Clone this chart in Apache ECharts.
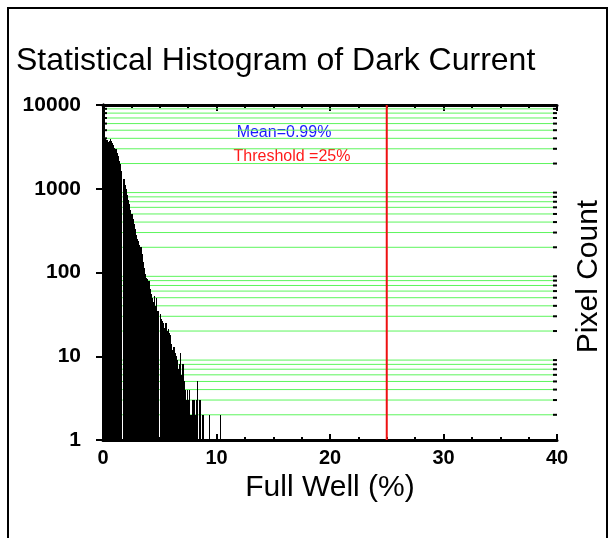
<!DOCTYPE html>
<html><head><meta charset="utf-8">
<script src="https://cdn.jsdelivr.net/npm/echarts@6/dist/echarts.min.js"></script>
<style>html,body{margin:0;padding:0;background:#fff}#c{width:614px;height:538px}</style>
</head><body><div id="c"></div>
<script>
const titleText = 'Statistical Histogram of Dark Current';
const xAxisName = 'Full Well (%)';
const yAxisName = 'Pixel Count';
const meanText = 'Mean=0.99%';
const thresholdText = 'Threshold =25%';
const thresholdValue = 25;
const xMin = 0, xMax = 40, xInterval = 10;
const yMin = 1, yMax = 10000;
const binWidth = 0.1;
// pixel counts per 0.1 % bin, starting at 0 %  (null = empty bin)
const pixelCounts = [
  3200, 3700, 3900, 3850, 3600, 3750, 3900, 3700, 3500, 3300,
  3100, 2950, 2700, 2450, 2150, 1950, 1650, null, 1300, 1120,
  1000, 850, 740, 660, 560, 500, 440, 380, 330, 280,
  250, 235, 215, 200, 165, 135, 112, 95, 87, 83,
  79, 63, 56, 50, 45, 52, 40, 50, 35, null,
  32, 28, 26, 25, 22, 25, 20, 21, 19, 18,
  14, 12, 13, 11, 10, 9, 7, 8, 11, 6,
  8, 5, 4, 3, 4, 3, 4, 2, 3, 3,
  3, 2, 3, 5, 1, 3, 1, 2, 2, 1,
  1, 1, 1, 2, 1, 1, 1, 1, 1, 1,
  1, 1, 1, 2
];
// minor grid values of the log axis
const gridValues = [
  2, 3, 4, 5, 6, 7, 8, 9,
  20, 30, 40, 50, 60, 70, 80, 90,
  200, 300, 400, 500, 600, 700, 800, 900,
  2000, 3000, 4000, 5000, 6000, 7000, 8000, 9000
];

const FONT = 'Liberation Sans, Arial, sans-serif';
const chart = echarts.init(document.getElementById('c'));

const histData = pixelCounts.map((c, i) => [i * binWidth, c == null ? '-' : c]);

const axisLineStyle = { color: '#000', width: 3 };

const option = {
  backgroundColor: '#fff',
  animation: false,
  title: {
    text: titleText, left: 11, top: 40,
    textStyle: { fontSize: 32, fontWeight: 'normal', color: '#000', fontFamily: FONT }
  },
  grid: { left: 103, right: 57, top: 105, bottom: 98 },
  xAxis: [{
    type: 'value', min: xMin, max: xMax, interval: xInterval, position: 'bottom',
    axisLine: { lineStyle: axisLineStyle },
    axisTick: { inside: true, length: 6, lineStyle: { color: '#000', width: 2 } },
    minorTick: { show: true, splitNumber: 4, length: 3, lineStyle: { color: '#000', width: 2 } },
    splitLine: { show: false },
    axisLabel: { fontWeight: 'bold', fontSize: 20, color: '#000', margin: 8, fontFamily: FONT },
    name: xAxisName, nameLocation: 'middle', nameGap: 29,
    nameTextStyle: { fontSize: 30, color: '#000', fontFamily: FONT }
  }, {
    type: 'value', min: xMin, max: xMax, interval: xInterval, position: 'top',
    axisLine: { lineStyle: axisLineStyle },
    axisTick: { inside: true, length: 6, lineStyle: { color: '#000', width: 2 } },
    minorTick: { show: true, splitNumber: 4, length: 3, lineStyle: { color: '#000', width: 2 } },
    splitLine: { show: false },
    axisLabel: { show: false }
  }],
  yAxis: [{
    type: 'log', logBase: 10, min: yMin, max: yMax, position: 'left',
    axisLine: { show: true, lineStyle: axisLineStyle },
    axisTick: { show: true, inside: true, length: 7, lineStyle: { color: '#000', width: 2 } },
    minorTick: { show: false },
    splitLine: { show: false },
    axisLabel: { fontWeight: 'bold', fontSize: 21, color: '#000', margin: 22, fontFamily: FONT,
      formatter: v => String(Math.round(v)) }
  }, {
    type: 'log', logBase: 10, min: yMin, max: yMax, position: 'right',
    axisLine: { show: true, lineStyle: axisLineStyle },
    axisTick: { show: true, inside: true, length: 7, lineStyle: { color: '#000', width: 2 } },
    minorTick: { show: false },
    splitLine: { show: false },
    axisLabel: { show: false },
    name: yAxisName, nameLocation: 'middle', nameGap: 17, nameRotate: 90,
    nameTextStyle: { fontSize: 30, color: '#000', fontFamily: FONT, padding: [0, 8, 0, 0] }
  }],
  series: [{
    // green minor grid lines
    type: 'custom', z: 1, silent: true,
    data: gridValues.map(v => [xMin, v]),
    encode: { x: 0, y: 1 },
    renderItem: (params, api) => {
      const v = api.value(1);
      const a = api.coord([xMin, v]);
      const b = api.coord([xMax, v]);
      return { type: 'line', shape: { x1: a[0], y1: a[1], x2: b[0], y2: b[1] },
        style: { stroke: '#5cf55c', lineWidth: 1 } };
    }
  }, {
    // histogram bars
    type: 'custom', z: 2, silent: true,
    data: histData,
    encode: { x: 0, y: 1 },
    renderItem: (params, api) => {
      const x0 = api.value(0), c = api.value(1);
      if (!(c > 0)) return;
      const p0 = api.coord([x0, c]);
      const p1 = api.coord([x0 + binWidth, yMin]);
      const left = Math.round(p0[0]);
      const right = Math.max(Math.round(p1[0]), left + 1);
      const top = Math.round(p0[1]);
      return { type: 'rect',
        shape: { x: left, y: top, width: right - left, height: Math.round(p1[1]) - top },
        style: { fill: '#000', stroke: null, lineWidth: 0 } };
    }
  }, {
    // minor ticks of the log axes (left and right)
    type: 'custom', z: 5, silent: true,
    data: gridValues.map(v => [xMin, v]),
    encode: { x: 0, y: 1 },
    renderItem: (params, api) => {
      const v = api.value(1);
      const a = api.coord([xMin, v]);
      const b = api.coord([xMax, v]);
      return { type: 'group', children: [
        { type: 'line', shape: { x1: a[0], y1: a[1], x2: a[0] + 4, y2: a[1] }, style: { stroke: '#000', lineWidth: 2 } },
        { type: 'line', shape: { x1: b[0] - 4, y1: b[1], x2: b[0], y2: b[1] }, style: { stroke: '#000', lineWidth: 2 } }
      ] };
    }
  }, {
    // threshold line
    type: 'custom', z: 6, silent: true,
    data: [[thresholdValue, yMin]],
    encode: { x: 0, y: 1 },
    renderItem: (params, api) => {
      const x = api.value(0);
      const a = api.coord([x, yMin]);
      const b = api.coord([x, yMax]);
      return { type: 'line', shape: { x1: a[0], y1: a[1], x2: b[0], y2: b[1] },
        style: { stroke: '#ee1111', lineWidth: 2 } };
    }
  }],
  graphic: [{
    type: 'polyline', silent: true,
    shape: { points: [[8, 538], [8, 8], [607, 8], [607, 538]] },
    style: { stroke: '#000', lineWidth: 2, fill: null }
  }, {
    type: 'text', silent: true,
    style: { text: meanText, x: 284, y: 133, textAlign: 'center', textVerticalAlign: 'middle',
      font: '16px ' + FONT, fill: '#1a1aff' }
  }, {
    type: 'text', silent: true,
    style: { text: thresholdText, x: 292, y: 157, textAlign: 'center', textVerticalAlign: 'middle',
      font: '16px ' + FONT, fill: '#ff1a1a' }
  }]
};
chart.setOption(option);
</script>
</body></html>
